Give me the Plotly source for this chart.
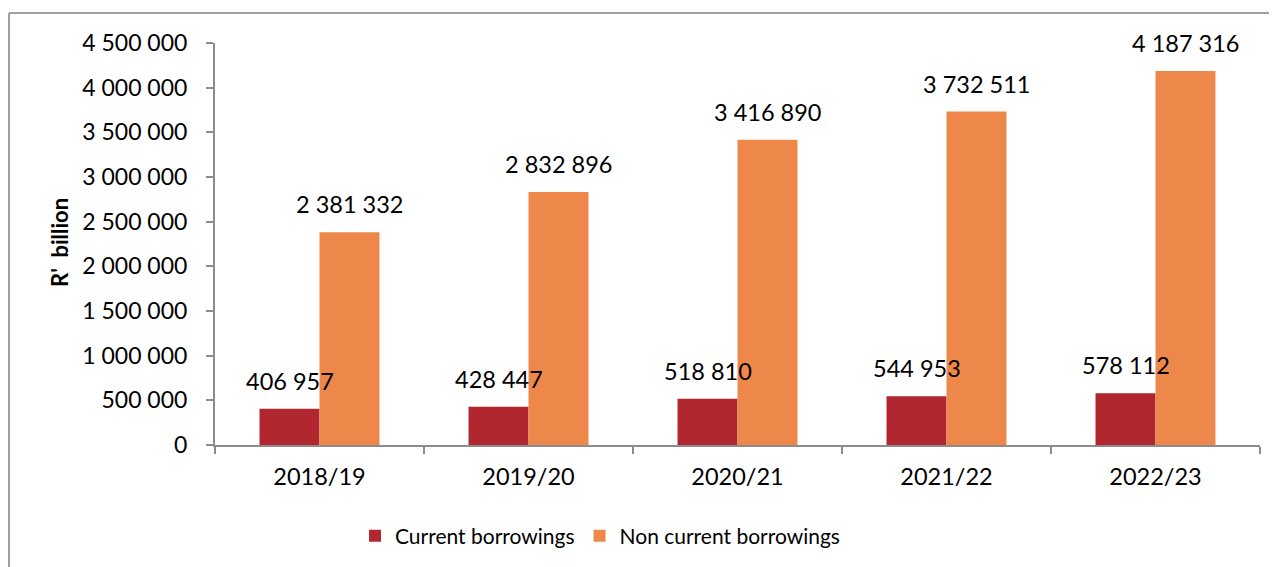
import plotly.graph_objects as go

categories = ["2018/19", "2019/20", "2020/21", "2021/22", "2022/23"]
current = [406957, 428447, 518810, 544953, 578112]
non_current = [2381332, 2832896, 3416890, 3732511, 4187316]
y_ticks = [0, 500000, 1000000, 1500000, 2000000, 2500000, 3000000, 3500000, 4000000, 4500000]

FONT = "Lato, 'Open Sans', sans-serif"
C_CUR = "#B0272F"
C_NON = "#ED884A"
AX = "#8C8C8C"
FS = 23.5

def fmt(v):
    return f"{v:,}".replace(",", " ")

fig = go.Figure()
fig.add_trace(go.Bar(x=categories, y=current, name="Current borrowings",
                     marker=dict(color=C_CUR, line=dict(width=0))))
fig.add_trace(go.Bar(x=categories, y=non_current, name="Non current borrowings",
                     marker=dict(color=C_NON, line=dict(width=0))))

annotations = []
for c, a, b in zip(categories, current, non_current):
    annotations.append(dict(x=c, y=a, xref="x", yref="y", text=fmt(a), showarrow=False,
                            xshift=-30, yshift=28, yanchor="middle",
                            font=dict(family=FONT, size=FS, color="#000")))
    annotations.append(dict(x=c, y=b, xref="x", yref="y", text=fmt(b), showarrow=False,
                            xshift=30, yshift=28, yanchor="middle",
                            font=dict(family=FONT, size=FS, color="#000")))

OX, OY = 8, 8  # page offset of the figure
L, R, T, B = 215 - OX, 25, 43 - OY, 130
pw = 1277 - L - R
ph = 567 - T - B
def px(x):
    return (x - OX - L) / pw
def py(y):
    return (567 - B - (y - OY)) / ph

annotations.append(dict(x=px(60), y=py(243), xref="paper", yref="paper", text="<b>R'  billion</b>",
                        textangle=-90, showarrow=False, xanchor="center", yanchor="middle",
                        font=dict(family=FONT, size=22, color="#000")))

shapes = [
    dict(type="line", xref="paper", yref="paper", x0=px(9), x1=px(1300), y0=py(13), y1=py(13),
         line=dict(color="#A0A0A0", width=2)),
    dict(type="line", xref="paper", yref="paper", x0=px(9), x1=px(9), y0=py(13), y1=py(600),
         line=dict(color="#A0A0A0", width=2)),
]

fig.update_layout(
    width=1277, height=567,
    margin=dict(l=L, r=R, t=T, b=B),
    paper_bgcolor="white", plot_bgcolor="white",
    barmode="group", bargap=0.426, bargroupgap=0,
    separators=". ",
    font=dict(family=FONT, size=21, color="#000"),
    showlegend=True,
    legend=dict(orientation="h", x=px(600), xanchor="center", y=py(536), yanchor="middle",
                font=dict(family=FONT, size=21, color="#000"), itemsizing="constant",
                itemwidth=30, traceorder="normal"),
    annotations=annotations,
    shapes=shapes,
)
fig.update_xaxes(showline=True, linecolor=AX, linewidth=2, ticks="outside", tickson="boundaries",
                 ticklen=7, tickcolor=AX, tickwidth=2, showgrid=False,
                 tickfont=dict(family=FONT, size=FS, color="#000"), ticklabelstandoff=10)
fig.update_yaxes(range=[0, 4500000], tickvals=y_ticks, tickformat=",d", showline=True,
                 linecolor=AX, linewidth=2, ticks="outside", ticklen=7, tickcolor=AX, tickwidth=2,
                 showgrid=False, zeroline=False,
                 tickfont=dict(family=FONT, size=23, color="#000"), ticklabelstandoff=14)

fig.write_html("out.html")
